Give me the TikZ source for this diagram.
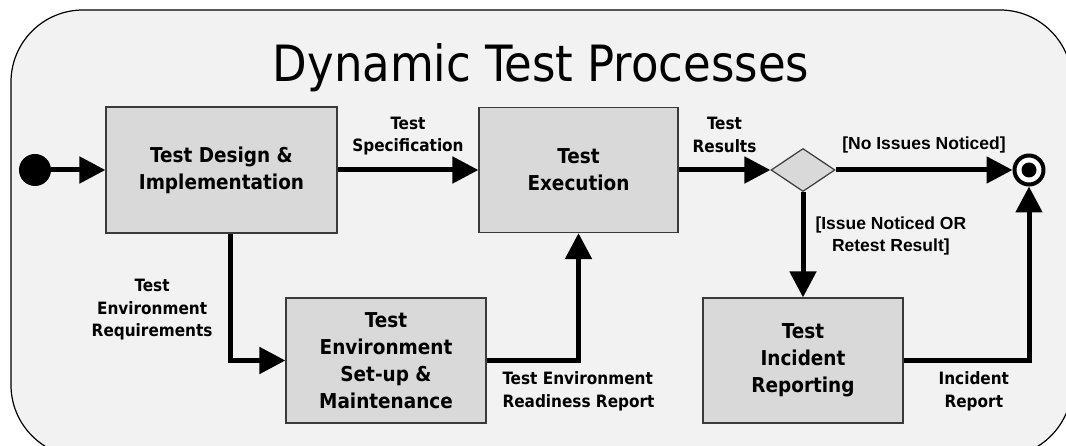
\documentclass[tikz,border=0pt]{standalone}
\usepackage{fontspec}
\usepackage{xcolor}
\usetikzlibrary{arrows.meta,shapes.geometric}

\newfontfamily\tahomafont{DejaVu Sans Condensed}
\newfontfamily\arialfont{Liberation Sans}

\definecolor{panelgray}{HTML}{F2F2F2}
\definecolor{boxgray}{HTML}{D9D9D9}
\definecolor{rimgray}{HTML}{3A3A3A}

\tikzset{
  box/.style={rectangle, draw=rimgray, line width=1.2pt, fill=boxgray, align=center, inner sep=0pt,
    font=\tahomafont\bfseries\fontsize{20.5}{27}\selectfont},
  flow/.style={line width=5pt, -{Triangle[length=26pt,width=26pt]}},
  lbl/.style={align=center, inner sep=2pt, font=\tahomafont\bfseries\fontsize{17}{22.5}\selectfont},
  guard/.style={align=center, inner sep=2pt, font=\arialfont\bfseries\fontsize{17.5}{22}\selectfont},
}

\begin{document}
\begin{tikzpicture}[x=1pt,y=-1pt]
%
         \useasboundingbox (0,0) rectangle (1066,446);
         \clip (0,0) rectangle (1066,446);
         \draw [fill=panelgray, draw=black, line width=1.2pt, rounded corners=72pt] (11,10) rectangle (1072,457);

         \node [font=\tahomafont\fontsize{50}{50}\selectfont, anchor=base] (T) at (541,82) {Dynamic Test Processes};

         \node [circle, fill=black, minimum size=32pt, inner sep=0pt] (S) at (35,170) {};
         \node [box, minimum width=231pt, minimum height=126pt] (A) at (221.5,170) {Test Design \&\\Implementation};
         \node [box, minimum width=199pt, minimum height=125pt] (B) at (578.5,170) {Test\\Execution};
         \node [box, minimum width=200pt, minimum height=125pt] (C) at (386,360.5) {Test\\Environment\\Set-up \&\\Maintenance};
         \node [diamond, draw=rimgray, line width=1.2pt, fill=boxgray, minimum width=64pt, minimum height=43pt, inner sep=0pt] (D) at (803,170) {};
         \node [box, minimum width=200pt, minimum height=125pt] (F) at (803,360.5) {Test\\Incident\\Reporting};
         \node [circle, draw=black, line width=4pt, fill=white, minimum size=29pt, inner sep=0pt] (E) at (1029,170) {};
         \node [circle, fill=black, minimum size=15pt, inner sep=0pt] (E2) at (E) {};

         \draw [flow] (S) -- (A);
         \draw [flow] (A) -- node[lbl, above=10pt]{Test\\Specification} (B);
         \draw [flow] (B) -- node[lbl, above=13pt]{Test\\Results} (D);
         \draw [flow] (D) -- node[guard, above=12pt]{[No Issues Noticed]} (E);
         \draw [flow] (D) -- node[guard, right=8pt, pos=0.42]{[Issue Noticed OR\\Retest Result]} (F);
         \draw [flow] ([xshift=8.5pt]A.south) |- node[lbl, left=13pt, pos=0.3]{Test\\Environment\\Requirements} (C);
         \draw [flow] (C) -| node[lbl, align=left, below=7pt, pos=0.5]{Test Environment\\Readiness Report} (B);
         \draw [flow] (F) -| node[lbl, below=7pt, pos=0.28]{Incident\\Report} (E);

\end{tikzpicture}
\end{document}
